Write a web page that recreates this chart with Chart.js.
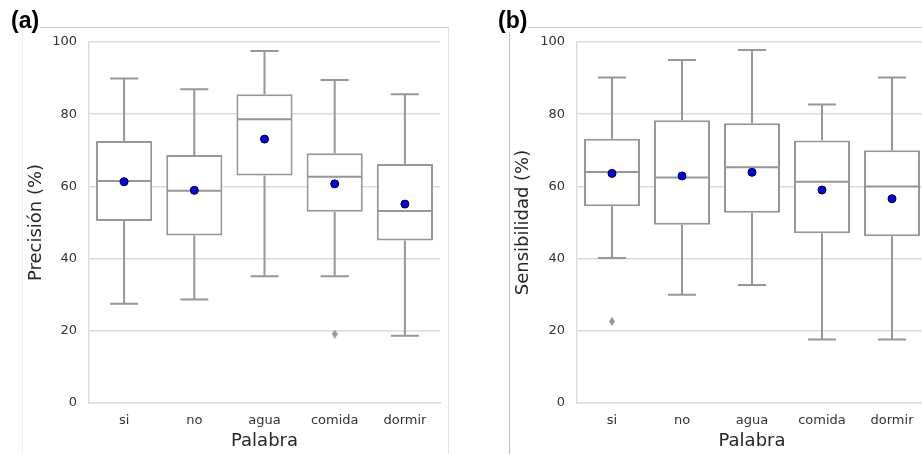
<!DOCTYPE html>
<html>
<head>
<meta charset="utf-8">
<script src="https://cdn.jsdelivr.net/npm/chart.js@4.4.1/dist/chart.umd.min.js"></script>
<style>
    html, body { margin: 0; padding: 0; background: #fff; overflow: hidden; }
    #page { position: relative; width: 922px; height: 454px; overflow: hidden; }
    .frame { position: absolute; box-sizing: border-box; }
    #frameA { left: 22px; top: 27px; width: 427px; height: 440px;
        border-left: 1px solid #f0f0f0; border-top: 1px solid #cfcfcf; border-right: 1px solid #e2e2e2; }
    #frameB { left: 509px; top: 27px; width: 440px; height: 440px;
        border-left: 1px solid #bdbdbd; border-top: 1px solid #cfcfcf; }
    .tag { position: absolute; font: bold 23px "Liberation Sans", Arial, sans-serif; line-height: 23px;
        background: #fff; padding: 0 1px; color: #000; }
    #wrapA { position: absolute; left: 0; top: 0; width: 461px; height: 454px; }
    #wrapB { position: absolute; left: 461px; top: 0; width: 480px; height: 454px; }
</style>
</head>
<body>
<div id="page">
    <div class="frame" id="frameA"></div>
    <div class="frame" id="frameB"></div>
    <div id="wrapA"><canvas id="chartA" width="461" height="454"></canvas></div>
    <div id="wrapB"><canvas id="chartB" width="480" height="454"></canvas></div>
    <div class="tag" style="left:10px; top:9px;">(a)</div>
    <div class="tag" style="left:497px; top:9px;">(b)</div>
</div>
<script>
const categories = ["si", "no", "agua", "comida", "dormir"];
const yTicks = [0, 20, 40, 60, 80, 100];

// Precisión (%)
const precLow = [27.5, 28.7, 35.1, 35.1, 18.6];
const precQ1 = [50.4, 46.4, 63.0, 53.0, 45.0];
const precMedian = [61.5, 58.8, 78.6, 62.7, 53.2];
const precQ3 = [72.6, 68.7, 85.5, 69.2, 66.2];
const precHigh = [89.9, 86.9, 97.5, 89.5, 85.5];
const precMean = [61.3, 58.9, 73.1, 60.7, 55.1];
const precOutliers = [null, null, null, 19.1, null];

// Sensibilidad (%)
const sensLow = [40.2, 30.0, 32.7, 17.6, 17.6];
const sensQ1 = [54.5, 49.4, 52.7, 47.0, 46.2];
const sensMedian = [64.0, 62.5, 65.3, 61.3, 60.0];
const sensQ3 = [73.2, 78.3, 77.5, 72.7, 70.0];
const sensHigh = [90.2, 95.0, 97.8, 82.7, 90.2];
const sensMean = [63.6, 62.9, 63.9, 59.0, 56.6];
const sensOutliers = [22.6, null, null, null, null];

const LINE = "#979797";
const GRID = "#dcdcdc";
const TEXT = "#333333";
const FONT = "'DejaVu Sans', sans-serif";

// thin diamond used for outliers
const diamond = document.createElement("canvas");
diamond.width = 6;
diamond.height = 9;
(function () {
    const c = diamond.getContext("2d");
    c.fillStyle = LINE;
    c.beginPath();
    c.moveTo(3, 0);
    c.lineTo(6, 4.5);
    c.lineTo(3, 9);
    c.lineTo(0, 4.5);
    c.closePath();
    c.fill();
})();

// whiskers, caps and median line, drawn right after the boxes
const boxDecor = {
    id: "boxDecor",
    afterDatasetDraw(chart, args, opts) {
        if (args.index !== 0) return;
        const { ctx, scales: { x, y } } = chart;
        const step = x.width / categories.length;
        const capHalf = step * 0.2;
        const boxHalf = step * 0.4 - 1;
        ctx.save();
        ctx.strokeStyle = LINE;
        ctx.lineWidth = 2;
        categories.forEach((_, i) => {
            const cx = x.getPixelForValue(i);
            const lo = y.getPixelForValue(opts.low[i]);
            const hi = y.getPixelForValue(opts.high[i]);
            const q1 = y.getPixelForValue(opts.q1[i]);
            const q3 = y.getPixelForValue(opts.q3[i]);
            const md = y.getPixelForValue(opts.median[i]);
            ctx.beginPath();
            ctx.moveTo(cx, q1); ctx.lineTo(cx, lo);
            ctx.moveTo(cx, q3); ctx.lineTo(cx, hi);
            ctx.moveTo(cx - capHalf, lo); ctx.lineTo(cx + capHalf, lo);
            ctx.moveTo(cx - capHalf, hi); ctx.lineTo(cx + capHalf, hi);
            ctx.moveTo(cx - boxHalf, md); ctx.lineTo(cx + boxHalf, md);
            ctx.stroke();
        });
        ctx.restore();
    }
};

function makePanel(canvasId, yTitle, stats, layout) {
    const data = {
        labels: categories,
        datasets: [
            {
                type: "bar",
                data: stats.q1.map((v, i) => [v, stats.q3[i]]),
                backgroundColor: "#ffffff",
                borderColor: LINE,
                borderWidth: 2,
                borderSkipped: false,
                barPercentage: 0.8,
                categoryPercentage: 1.0,
                order: 3,
            },
            {
                type: "line",
                data: stats.outliers,
                showLine: false,
                pointStyle: diamond,
                pointRadius: 4,
                order: 2,
            },
            {
                type: "line",
                data: stats.mean,
                showLine: false,
                pointStyle: "circle",
                pointRadius: 4,
                pointBackgroundColor: "#0000ff",
                pointBorderColor: "#000000",
                pointBorderWidth: 1,
                order: 1,
            },
        ],
    };

    const options = {
        responsive: false,
        animation: false,
        layout: { padding: { left: layout.left, right: layout.right, top: 42, bottom: 0 } },
        plugins: {
            legend: { display: false },
            tooltip: { enabled: false },
            boxDecor: stats,
        },
        scales: {
            x: {
                grid: { display: false, drawTicks: false },
                border: { display: true, color: GRID, width: 1.5 },
                ticks: { color: TEXT, font: { family: FONT, size: 13 }, padding: 10 },
                title: { display: true, text: "Palabra", color: "#262626",
                    font: { family: FONT, size: 18 }, padding: { top: 0, bottom: 2 } },
                afterFit: (scale) => { scale.height = 51; },
            },
            y: {
                min: 0,
                max: 100,
                afterBuildTicks: (scale) => { scale.ticks = yTicks.map((v) => ({ value: v })); },
                grid: { color: GRID, lineWidth: 1.5, drawTicks: false },
                border: { display: true, color: GRID, width: 1.5 },
                ticks: { color: TEXT, font: { family: FONT, size: 13 }, padding: 12 },
                title: { display: true, text: yTitle, color: "#262626",
                    font: { family: FONT, size: 18 }, padding: { top: 4, bottom: 0 } },
                afterFit: (scale) => { scale.width = layout.axisWidth; },
            },
        },
    };

    return new Chart(document.getElementById(canvasId), {
        data: data,
        options: options,
        plugins: [boxDecor],
    });
}

makePanel("chartA", "Precisión (%)", {
    low: precLow, q1: precQ1, median: precMedian, q3: precQ3, high: precHigh,
    mean: precMean, outliers: precOutliers,
}, { left: 22, right: 21, axisWidth: 67 });

makePanel("chartB", "Sensibilidad (%)", {
    low: sensLow, q1: sensQ1, median: sensMedian, q3: sensQ3, high: sensHigh,
    mean: sensMean, outliers: sensOutliers,
}, { left: 48, right: 14, axisWidth: 68 });
</script>
</body>
</html>
